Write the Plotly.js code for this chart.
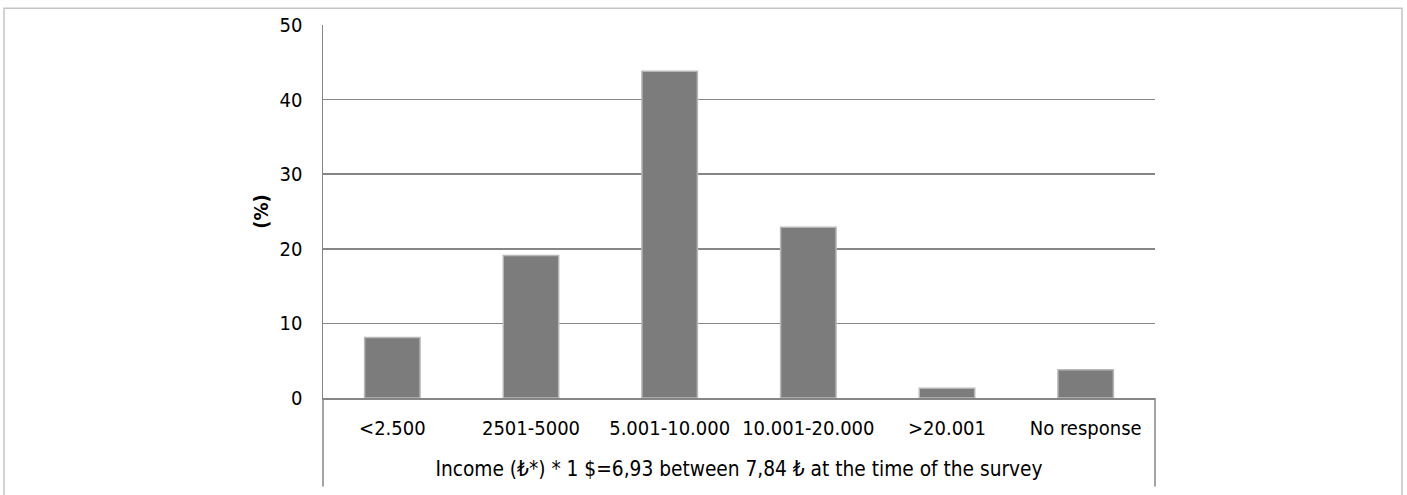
<!DOCTYPE html>
<html>
<head>
<meta charset="utf-8">
<script src="https://cdn.plot.ly/plotly-3.0.1.min.js"></script>
<style>html,body{margin:0;padding:0;background:#fff;}#chart{width:1407px;height:495px;}</style>
</head>
<body>
<div id="chart"></div>
<script>
const categories = ["<2.500", "2501-5000", "5.001-10.000", "10.001-20.000", ">20.001", "No response"];
const percentages = [8.1, 19.1, 43.8, 22.9, 1.3, 3.8];
const yTicks = [0, 10, 20, 30, 40, 50];
const xTitle = "Income (₺*) * 1 $=6,93 between 7,84 ₺ at the time of the survey";
const yTitle = "(%)";

const L = 323, R = 1155, T = 24.7, B = 398.3;
const W = 1407, H = 495;
const px = x => (x - L) / (R - L);
const py = y => (B - y) / (B - T);

const fam = "DejaVu Sans Condensed, Liberation Sans Narrow, sans-serif";
const font = {family: fam, size: 20, color: "#000"};

const trace = {
  type: "bar",
  x: categories,
  y: percentages,
  marker: {color: "#7c7c7c", line: {color: "#b8b8b8", width: 1.5}},
  hoverinfo: "x+y"
};

const layout = {
  width: W, height: H,
  margin: {l: L, r: W - R, t: T, b: H - B, pad: 0},
  paper_bgcolor: "#fff", plot_bgcolor: "#fff",
  font: font,
  showlegend: false,
  bargap: 0.6,
  xaxis: {
    type: "category",
    showline: true, linecolor: "#868686", linewidth: 1.5,
    showgrid: false, ticks: "", ticklabelstandoff: 11,
    tickfont: font,
    title: {text: xTitle, font: {family: fam, size: 20.7, color: "#000"}, standoff: 23},
    automargin: false
  },
  yaxis: {
    range: [0, 50],
    tickvals: yTicks,
    showline: true, linecolor: "#868686", linewidth: 1.5,
    showgrid: true, gridcolor: "#868686", gridwidth: 1.5,
    zeroline: false, ticks: "", ticklabelstandoff: 15,
    tickfont: font,
    title: {text: yTitle, font: {family: fam, size: 20, color: "#000", weight: "bold"}, standoff: 5},
    automargin: false
  },
  shapes: [
    {type: "line", xref: "paper", yref: "paper", x0: 0, x1: 0, y0: 0, y1: py(487), line: {color: "#868686", width: 1.5}},
    {type: "line", xref: "paper", yref: "paper", x0: 1, x1: 1, y0: 0, y1: py(487), line: {color: "#868686", width: 1.5}},
    {type: "rect", xref: "paper", yref: "paper", x0: px(4), x1: px(1402), y0: py(505), y1: py(8), line: {color: "#c4c4c4", width: 1.5}, layer: "below"}
  ]
};

Plotly.newPlot("chart", [trace], layout, {displayModeBar: false, staticPlot: true});
</script>
</body>
</html>
